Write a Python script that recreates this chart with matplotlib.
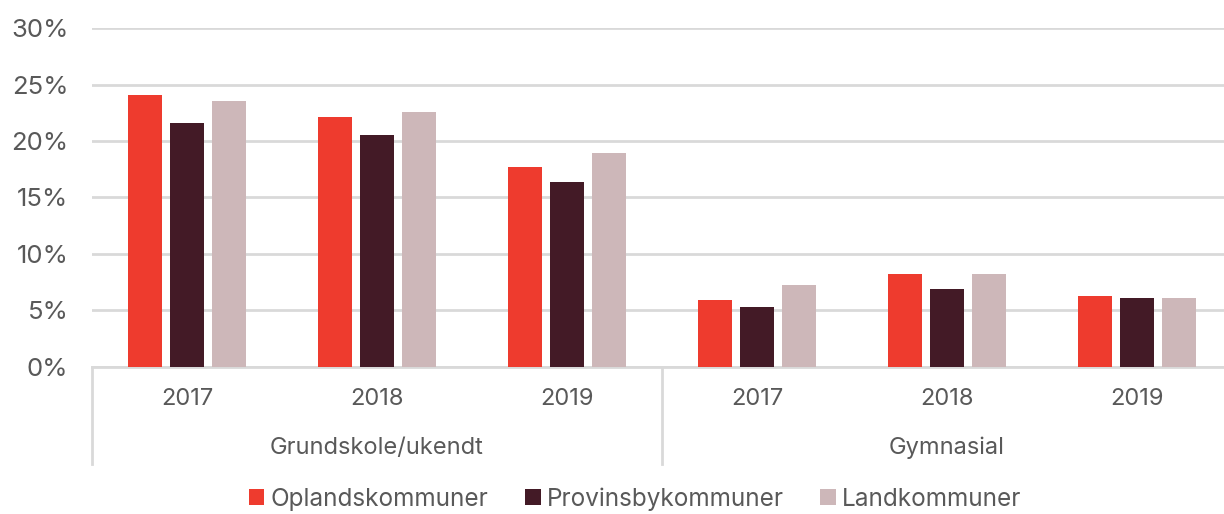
import matplotlib
matplotlib.use("Agg")
import matplotlib.pyplot as plt
import matplotlib.transforms as mtransforms
import numpy as np

plt.rcParams['font.family'] = ['Inter', 'DejaVu Sans']

groups = ["Grundskole/ukendt", "Gymnasial"]
years = ["2017", "2018", "2019"]
series = ["Oplandskommuner", "Provinsbykommuner", "Landkommuner"]
oplands = [24.1, 22.1, 17.7, 5.9, 8.2, 6.3]
provinsby = [21.6, 20.5, 16.4, 5.3, 6.9, 6.1]
land = [23.5, 22.6, 18.9, 7.2, 8.2, 6.1]
colors = ["#ee3b2e", "#431a26", "#cdb7b9"]

text_col = "#595959"
grid_col = "#d9d9d9"

fig = plt.figure(figsize=(12.24, 5.14), dpi=100)
ax = fig.add_axes([92 / 1224, 147.3 / 514, 1140 / 1224, 338.6 / 514])

x = np.arange(len(oplands))
width = 0.174
step = 0.221
for i, (vals, name) in enumerate(zip([oplands, provinsby, land], series)):
    ax.bar(x + (i - 1) * step, vals, width, color=colors[i], label=name, zorder=3)

ax.set_xlim(-0.5, len(x) - 0.5)
ax.set_ylim(0, 30)
ax.set_yticks(range(0, 31, 5))
ax.set_yticklabels([f"{v}%" for v in range(0, 31, 5)])
ax.yaxis.grid(True, color=grid_col, linewidth=2)
ax.set_axisbelow(True)
ax.tick_params(axis="y", length=0, pad=17, labelsize=18.5, labelcolor=text_col)
ax.set_xticks([])
for s in ["top", "right", "left"]:
    ax.spines[s].set_visible(False)
ax.spines["bottom"].set_color(grid_col)
ax.spines["bottom"].set_linewidth(2)

trans = mtransforms.blended_transform_factory(ax.transData, ax.transAxes)
h = 338.6
for i, yr in enumerate(years * 2):
    ax.text(i, -32 / h, yr, transform=trans, ha="center", va="center",
            fontsize=17, color=text_col)
for g, name in enumerate(groups):
    ax.text(g * 3 + 1, -81 / h, name, transform=trans, ha="center", va="center",
            fontsize=17, color=text_col)
for xs in [-0.5, 2.5]:
    ax.plot([xs, xs], [0, -97 / h], transform=trans, color=grid_col,
            linewidth=2, clip_on=False)

leg = fig.legend(loc="center", bbox_to_anchor=(635 / 1224, 1 - 499 / 514), ncol=3,
                 frameon=False, fontsize=17.5, handlelength=0.65, handleheight=0.65,
                 handletextpad=0.25, columnspacing=1.5)
for t in leg.get_texts():
    t.set_color(text_col)

fig.savefig("out.png", dpi=100)
